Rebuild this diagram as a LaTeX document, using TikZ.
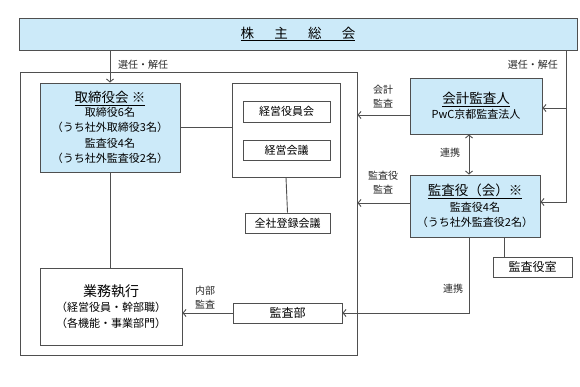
\documentclass[tikz,border=0pt]{standalone}
\usepackage{fontspec}
\setmainfont{Noto Sans CJK JP}
\usetikzlibrary{positioning,calc,arrows.meta}
\tikzset{kpx/.style={x=1pt,y=-1pt}}
\definecolor{kline}{HTML}{4F4F4F}
\definecolor{kfill}{HTML}{CCEAF9}
\tikzset{
  hako/.style={draw=kline,line width=0.9pt,fill=white,align=center,inner sep=0pt,font=\fontsize{11}{15.5}\selectfont},
  aohako/.style={hako,fill=kfill},
  sen/.style={kline,line width=0.9pt},
  ya/.style={sen,-{Straight Barb[length=3pt,width=7pt]}},
  ryoya/.style={sen,{Straight Barb[length=3pt,width=7pt]}-{Straight Barb[length=3pt,width=7pt]}},
  chu/.style={font=\fontsize{10}{14}\selectfont,align=center,inner sep=0pt,text=black!85},
}
\newcommand{\midashi}[1]{{\fontsize{13.5}{18}\selectfont\underline{#1}}}

\begin{document}
\begin{tikzpicture}[kpx]
  \useasboundingbox (0,0) rectangle (580,387);
  \node[aohako,minimum width=558,minimum height=32,font=\fontsize{13.5}{16}\selectfont] (sokai) at (298,34) {\underline{株\hspace{1.5em}主\hspace{1.5em}総\hspace{1.5em}会}};
  \node[hako,fill=none,minimum width=337,minimum height=283] (waku) at (188.5,213.5) {};
  \node[aohako,minimum width=140,minimum height=89] (torishimari) at (110,127.5) {\midashi{取締役会 ※}\\[-2pt]取締役6名\\（うち社外取締役3名）\\監査役4名\\（うち社外監査役2名）};
  \node[hako,minimum width=108,minimum height=94] (keiei) at (286,130) {};
  \node[hako,minimum width=87,minimum height=21] (yakuin) at (286.5,111.5) {経営役員会};
  \node[hako,minimum width=87,minimum height=20] (kaigi) at (286.5,150) {経営会議};
  \node[hako,minimum width=85,minimum height=20] (zensha) at (287.5,223) {全社登録会議};
  \node[hako,minimum width=142,minimum height=77] (gyomu) at (111,306.5) {{\fontsize{14}{19}\selectfont 業務執行}\\（経営役員・幹部職）\\（各機能・事業部門）};
  \node[hako,minimum width=109,minimum height=20,font=\fontsize{12}{15}\selectfont] (kansabu) at (287.5,313) {監査部};
  \node[aohako,minimum width=132,minimum height=56] (kaikei) at (476,106) {\midashi{会計監査人}\\PwC京都監査法人};
  \node[aohako,minimum width=130,minimum height=62] (kansayaku) at (475,206) {\midashi{監査役（会）※}\\監査役4名\\（うち社外監査役2名）};
  \node[hako,minimum width=79,minimum height=20,font=\fontsize{12}{15}\selectfont] (kansashitsu) at (532.5,267) {監査役室};
  \coordinate (migi) at (566,50);
  \node[chu,anchor=west] (sennin1) at (118,65) {選任・解任};
  \node[chu,anchor=east] (sennin2) at (558,65) {選任・解任};
  \node[chu] (lkaikei) at (383,97) {会計\\監査};
  \node[chu] (lkansayaku) at (383,183) {監査役\\監査};
  \node[chu] (lrenkei1) at (450,153) {連携};
  \node[chu] (lrenkei2) at (453,289) {連携};
  \node[chu] (lnaibu) at (205,298) {内部\\監査};
  \draw[ya] (sokai.south -| torishimari.north) -- (torishimari.north);
  \draw[ya] (sokai.south -| migi) |- ([yshift=4pt]kansayaku.east);
  \draw[ya] ([yshift=-2pt]kaikei.east -| migi) -- ([yshift=-2pt]kaikei.east);
  \draw[sen] (torishimari.east) -- (torishimari.east -| keiei.west);
  \draw[sen] (torishimari.south) -- (torishimari.south |- gyomu.north);
  \draw[sen] (keiei.south) -- (zensha.north);
  \draw[ya] (kansabu.west) -- (kansabu.west -| gyomu.east);
  \draw[ya] ([yshift=-9pt]kaikei.west) -- ([yshift=-9pt]kaikei.west -| waku.east);
  \draw[ya] ([yshift=3pt]kansayaku.west) -- ([yshift=3pt]kansayaku.west -| waku.east);
  \draw[ryoya] ([xshift=-7pt]kaikei.south) -- ([xshift=-7pt]kaikei.south |- kansayaku.north);
  \draw[ya] ([xshift=-6pt]kansayaku.south) |- (kansabu.east);
  \draw[sen] ([xshift=12pt]kansashitsu.north west) -- ([xshift=12pt]kansashitsu.north west |- kansayaku.south);
\end{tikzpicture}
\end{document}
